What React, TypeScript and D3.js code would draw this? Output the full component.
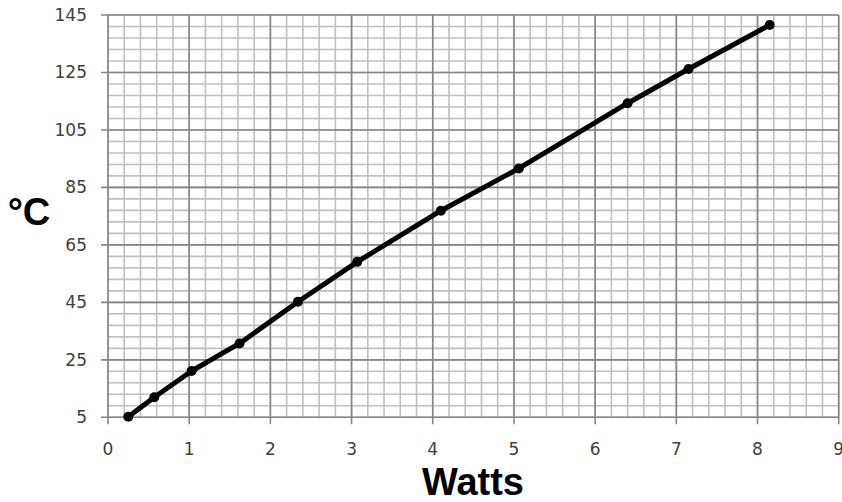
import React from "react";
import * as d3 from "d3";

const watts = [0.25, 0.57, 1.03, 1.62, 2.34, 3.07, 4.1, 5.06, 6.4, 7.15, 8.15];
const celsius = [5.2, 12.0, 21.1, 30.7, 45.2, 59.1, 76.9, 91.6, 114.3, 126.2, 141.5];
const xTicks = [0, 1, 2, 3, 4, 5, 6, 7, 8, 9];
const yTicks = [5, 25, 45, 65, 85, 105, 125, 145];
const xTitle = "Watts";
const yTitle = "°C";

const W = 842;
const H = 502;
const left = 108;
const right = 838.7;
const top = 15;
const bottom = 417.3;

export default function App() {
  const x = d3.scaleLinear().domain([0, 9]).range([left, right]);
  const y = d3.scaleLinear().domain([5, 145]).range([bottom, top]);
  const xMinor = d3.range(0, 9.0001, 0.2);
  const yMinor = d3.range(5, 145.0001, 4);
  const pts = watts.map((w, i) => [w, celsius[i]] as [number, number]);
  const line = d3
    .line<[number, number]>()
    .x((d) => x(d[0]))
    .y((d) => y(d[1]));
  const font = "'DejaVu Sans', Verdana, sans-serif";
  return (
    <svg
      width={W}
      height={H}
      style={{ position: "absolute", left: 0, top: 0, background: "#fff" }}
    >
      <rect x={0} y={0} width={W} height={H} fill="#fff" />
      {xMinor.map((v, i) => (
        <line key={"xm" + i} x1={x(v)} x2={x(v)} y1={top} y2={bottom} stroke="#c0c0c0" strokeWidth={1.6} />
      ))}
      {yMinor.map((v, i) => (
        <line key={"ym" + i} x1={left} x2={right} y1={y(v)} y2={y(v)} stroke="#c0c0c0" strokeWidth={1.6} />
      ))}
      {xTicks.map((v) => (
        <line key={"xM" + v} x1={x(v)} x2={x(v)} y1={top} y2={bottom + 7} stroke="#868686" strokeWidth={1.6} />
      ))}
      {yTicks.map((v) => (
        <line key={"yM" + v} x1={left - 7} x2={right} y1={y(v)} y2={y(v)} stroke="#868686" strokeWidth={1.6} />
      ))}
      {xTicks.map((v) => (
        <text key={"xl" + v} x={x(v)} y={455} textAnchor="middle" fontFamily={font} fontSize={17} fill="#404040">
          {v}
        </text>
      ))}
      {yTicks.map((v) => (
        <text key={"yl" + v} x={87} y={y(v) + 6} textAnchor="end" fontFamily={font} fontSize={17} fill="#404040">
          {v}
        </text>
      ))}
      <path d={line(pts) || ""} fill="none" stroke="#000" strokeWidth={5} strokeLinejoin="round" strokeLinecap="round" />
      {pts.map((p, i) => (
        <circle key={"p" + i} cx={x(p[0])} cy={y(p[1])} r={5} fill="#000" />
      ))}
      <text x={473} y={495} textAnchor="middle" fontFamily="'Liberation Sans', Arial, sans-serif" fontWeight="bold" fontSize={38} fill="#000">
        {xTitle}
      </text>
      <text x={29} y={225} textAnchor="middle" fontFamily="'Liberation Sans', Arial, sans-serif" fontWeight="bold" fontSize={38} fill="#000">
        {yTitle}
      </text>
    </svg>
  );
}
